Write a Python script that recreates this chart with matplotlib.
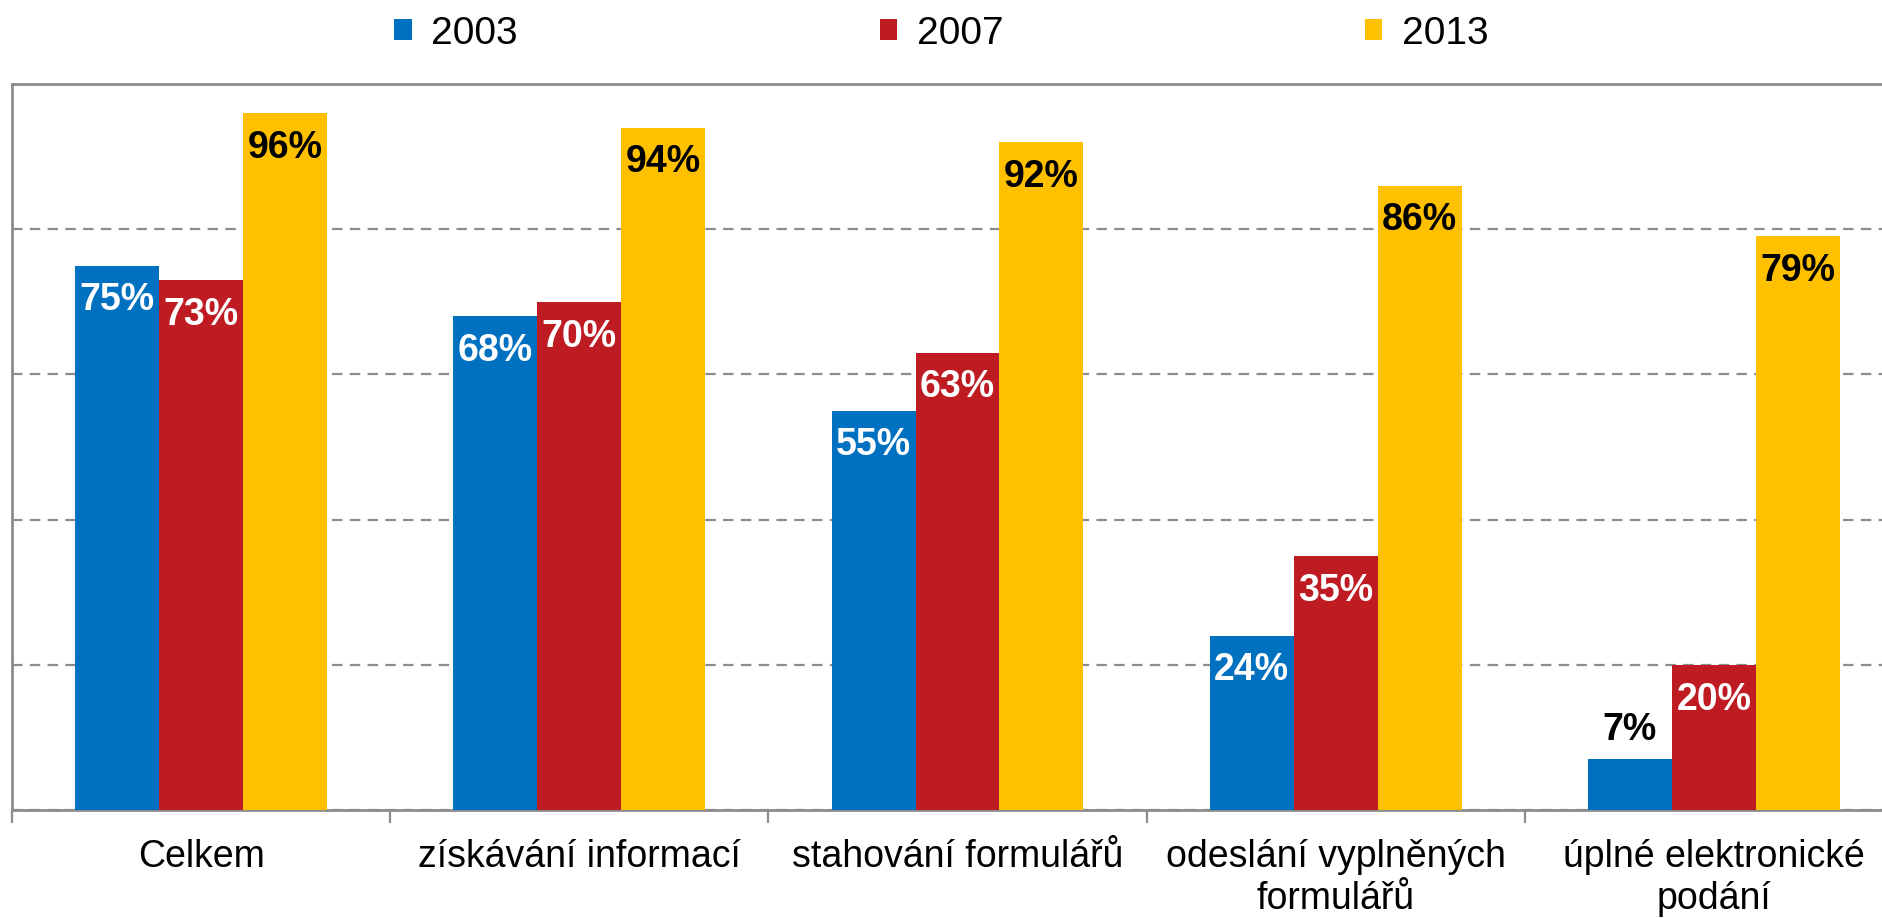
import numpy as np
import matplotlib
matplotlib.use('Agg')
from matplotlib import pyplot as plt

# data
categories = ['Celkem', 'získávání informací', 'stahování formulářů',
              'odeslání vyplněných\nformulářů', 'úplné elektronické\npodání']
years = ['2003', '2007', '2013']
v2003 = [75, 68, 55, 24, 7]
v2007 = [73, 70, 63, 35, 20]
v2013 = [96, 94, 92, 86, 79]

colors = ['#0070C0', '#BE1B22', '#FFC000']
label_colors = ['white', 'white', 'black']

plt.rcParams['font.family'] = ['Liberation Sans', 'DejaVu Sans']

fig = plt.figure(figsize=(18.83, 9.18), dpi=100)
ax = fig.add_axes([12 / 1883, 1 - 810 / 918, 1891 / 1883, (810 - 84) / 918])

x = np.arange(len(categories))
w = 0.222
series = [v2003, v2007, v2013]
for i, (vals, c) in enumerate(zip(series, colors)):
    bars = ax.bar(x + (i - 1) * w, vals, width=w, color=c, label=years[i], zorder=3)
    for b, v in zip(bars, vals):
        cx = b.get_x() + b.get_width() / 2
        if v < 10:
            ax.annotate(f'{v}%', (cx, v), xytext=(0, 21), textcoords='offset points',
                        ha='center', va='center', fontsize=27, fontweight='bold',
                        color='black', zorder=4)
        else:
            ax.annotate(f'{v}%', (cx, v), xytext=(0, -25), textcoords='offset points',
                        ha='center', va='center', fontsize=27, fontweight='bold',
                        color=label_colors[i], zorder=4)

ax.set_xlim(-0.5, len(categories) - 0.5)
ax.set_ylim(0, 100)
ax.set_yticks([0, 20, 40, 60, 80, 100])
ax.set_yticklabels([])
ax.tick_params(axis='y', length=0)
ax.yaxis.grid(True, color='#8C8C8C', linestyle=(0, (4.7, 3.3)), linewidth=1.6, zorder=0)

# category boundary ticks and centered labels
ax.set_xticks(np.arange(len(categories) + 1) - 0.5)
ax.set_xticklabels([])
ax.set_xticks(x, minor=True)
ax.set_xticklabels(categories, minor=True, fontsize=27, linespacing=1.22)
ax.tick_params(axis='x', which='major', length=9, width=1.6, color='#8C8C8C')
ax.tick_params(axis='x', which='minor', length=0, pad=21)

for s in ['left', 'bottom', 'top']:
    ax.spines[s].set_color('#8C8C8C')
    ax.spines[s].set_linewidth(2)
ax.spines['right'].set_visible(False)

fig.legend(loc='upper center', bbox_to_anchor=(0.5, 1.021), ncol=3, frameon=False,
           fontsize=28, handlelength=0.45, handleheight=0.45, handletextpad=0.5,
           columnspacing=9.3)

fig.savefig('out.png', dpi=100)
